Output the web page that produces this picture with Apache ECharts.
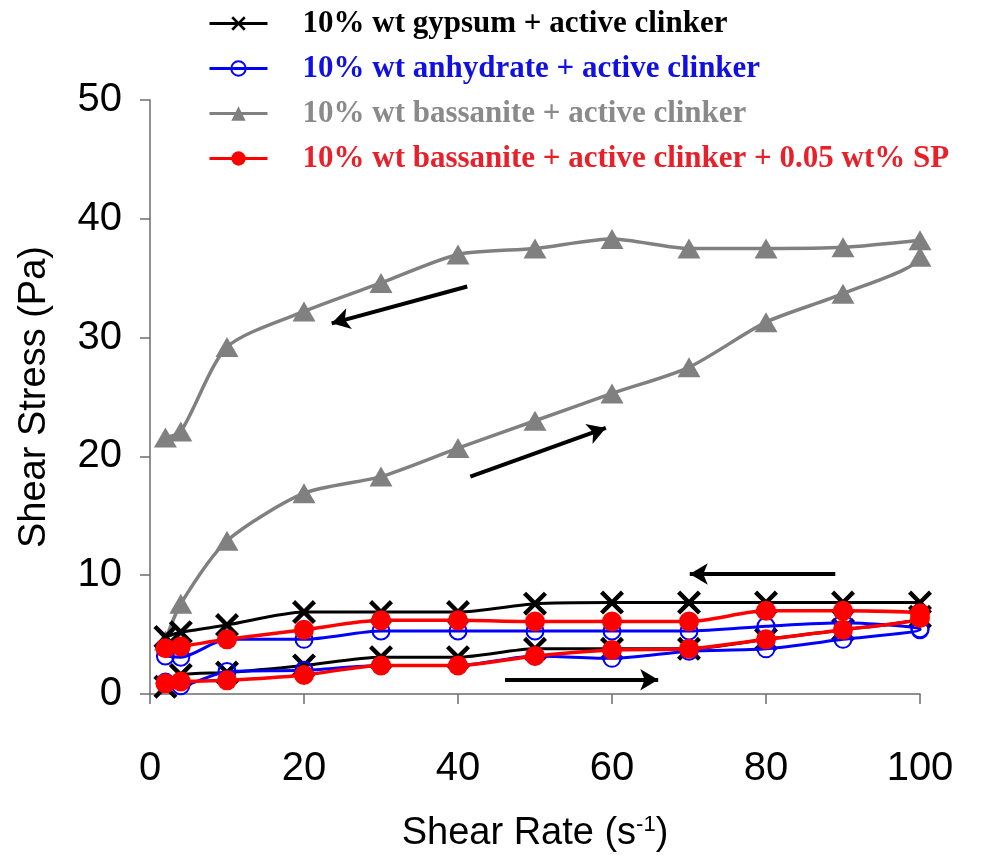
<!DOCTYPE html>
<html>
<head>
<meta charset="utf-8">
<script src="https://cdn.jsdelivr.net/npm/echarts@6/dist/echarts.min.js"></script>
<style>html,body{margin:0;padding:0;background:#fff;}#c{width:1000px;height:859px;}</style>
</head>
<body>
<div id="c"></div>
<script>
// Shear rates (s^-1)
const shearRates = [2, 4, 10, 20, 30, 40, 50, 60, 70, 80, 90, 100];
const yTicks = [0, 10, 20, 30, 40, 50];
const xTicks = [0, 20, 40, 60, 80, 100];

const seriesNames = [
  '10% wt gypsum + active clinker',
  '10% wt anhydrate + active clinker',
  '10% wt bassanite + active clinker',
  '10% wt bassanite + active clinker + 0.05 wt% SP'
];

// ramp-up (increasing shear rate), values at shearRates
const gypsumUp    = [0.6, 1.6, 1.8, 2.4, 3.1, 3.1, 3.8, 3.8, 3.8, 4.6, 5.4, 6.5];
// ramp-down (decreasing shear rate), values at shearRates
const gypsumDown  = [4.8, 5.2, 5.8, 6.9, 6.9, 6.9, 7.6, 7.7, 7.7, 7.7, 7.7, 7.7];

const anhydrateUp   = [1.0, 0.7, 1.9, 2.0, 2.4, 2.4, 3.2, 3.0, 3.6, 3.8, 4.6, 5.4];
const anhydrateDown = [3.2, 3.1, 4.6, 4.6, 5.3, 5.3, 5.3, 5.3, 5.3, 5.7, 6.0, 5.5];

const bassaniteUp   = [4.5, 7.6, 12.9, 16.9, 18.3, 20.7, 23.0, 25.3, 27.5, 31.3, 33.7, 36.8];
const bassaniteDown = [21.6, 22.1, 29.2, 32.2, 34.6, 37.0, 37.5, 38.3, 37.5, 37.5, 37.6, 38.2];

const spUp   = [0.9, 1.05, 1.15, 1.6, 2.4, 2.4, 3.2, 3.7, 3.8, 4.6, 5.4, 6.4];
const spDown = [3.85, 4.0, 4.6, 5.4, 6.2, 6.2, 6.1, 6.1, 6.1, 7.0, 7.0, 6.8];

// direction arrows [from, to] in data coordinates
const arrows = [
  [[41.2, 34.3], [23.6, 31.2]],
  [[41.6, 18.3], [59.2, 22.4]],
  [[89.0, 10.1], [70.1, 10.1]],
  [[46.1, 1.2], [66.0, 1.2]]
];

function loop(up, down) {
  const a = shearRates.map((x, i) => [x, up[i]]);
  const b = shearRates.map((x, i) => [x, down[i]]).reverse();
  return a.concat(b);
}

const colors = ['#000000', '#0000ff', '#808080', '#ff0000'];
const legendColors = ['#000000', '#1010e0', '#8a8a8a', '#e8202a'];
const crossPath = 'path://M0,1.3L1.3,0L5,3.7L8.7,0L10,1.3L6.3,5L10,8.7L8.7,10L5,6.3L1.3,10L0,8.7L3.7,5Z';

const chart = echarts.init(document.getElementById('c'), null, {renderer: 'canvas'});

const axisFont = 'Liberation Sans, Arial, sans-serif';

const option = {
  animation: false,
  backgroundColor: '#ffffff',
  grid: {left: 150, top: 100, width: 770, height: 594, containLabel: false},
  legend: {
    orient: 'vertical',
    left: 203,
    top: 3,
    itemWidth: 58,
    itemHeight: 18,
    itemGap: 14,
    selectedMode: false,
    lineStyle: {width: 3},
    textStyle: {fontFamily: 'Liberation Serif, Times New Roman, serif', fontWeight: 'bold', fontSize: 31, padding: [0, 0, 0, 30]},
    data: seriesNames.map((n, i) => ({name: n, textStyle: {color: legendColors[i]}}))
  },
  xAxis: {
    type: 'value', min: 0, max: 100, interval: 20,
    name: '{a|Shear Rate (s}{s|-1}{a|)}',
    nameLocation: 'middle', nameGap: 120,
    nameTextStyle: {
      rich: {
        a: {fontFamily: axisFont, fontSize: 38, color: '#000'},
        s: {fontFamily: axisFont, fontSize: 22, color: '#000', padding: [0, 0, 18, 0]}
      }
    },
    axisLine: {show: true, lineStyle: {color: '#6e6e6e', width: 1.5}},
    axisTick: {show: true, inside: false, length: 10, lineStyle: {color: '#6e6e6e', width: 1.5}},
    splitLine: {show: false},
    axisLabel: {fontFamily: axisFont, fontSize: 40, color: '#000', margin: 55}
  },
  yAxis: {
    type: 'value', min: 0, max: 50, interval: 10,
    name: 'Shear Stress (Pa)',
    nameLocation: 'middle', nameGap: 96,
    nameTextStyle: {fontFamily: axisFont, fontSize: 38, color: '#000'},
    axisLine: {show: true, lineStyle: {color: '#6e6e6e', width: 1.5}},
    axisTick: {show: true, inside: false, length: 10, lineStyle: {color: '#6e6e6e', width: 1.5}},
    splitLine: {show: false},
    axisLabel: {fontFamily: axisFont, fontSize: 40, color: '#000', margin: 28}
  },
  series: [
    {
      name: seriesNames[0], type: 'line', z: 3, smooth: 0.25,
      data: loop(gypsumUp, gypsumDown),
      symbol: crossPath, symbolSize: 24,
      lineStyle: {color: colors[0], width: 3},
      itemStyle: {color: colors[0]},
      markLine: {
        silent: true, symbol: ['none', 'arrow'], symbolSize: [16, 18],
        label: {show: false},
        lineStyle: {color: '#000', width: 4, type: 'solid'},
        data: arrows.map(a => [{coord: a[0]}, {coord: a[1]}])
      }
    },
    {
      name: seriesNames[1], type: 'line', z: 4, smooth: 0.25,
      data: loop(anhydrateUp, anhydrateDown),
      symbol: 'circle', symbolSize: 17,
      lineStyle: {color: colors[1], width: 3},
      itemStyle: {color: 'rgba(255,255,255,0)', borderColor: colors[1], borderWidth: 2}
    },
    {
      name: seriesNames[2], type: 'line', z: 2, smooth: 0.25,
      data: loop(bassaniteUp, bassaniteDown),
      symbol: 'triangle', symbolSize: [23, 20],
      lineStyle: {color: colors[2], width: 3.5},
      itemStyle: {color: colors[2]}
    },
    {
      name: seriesNames[3], type: 'line', z: 5, smooth: 0.25,
      data: loop(spUp, spDown),
      symbol: 'circle', symbolSize: 20,
      lineStyle: {color: colors[3], width: 3.5},
      itemStyle: {color: colors[3]}
    }
  ]
};
chart.setOption(option);
</script>
</body>
</html>
